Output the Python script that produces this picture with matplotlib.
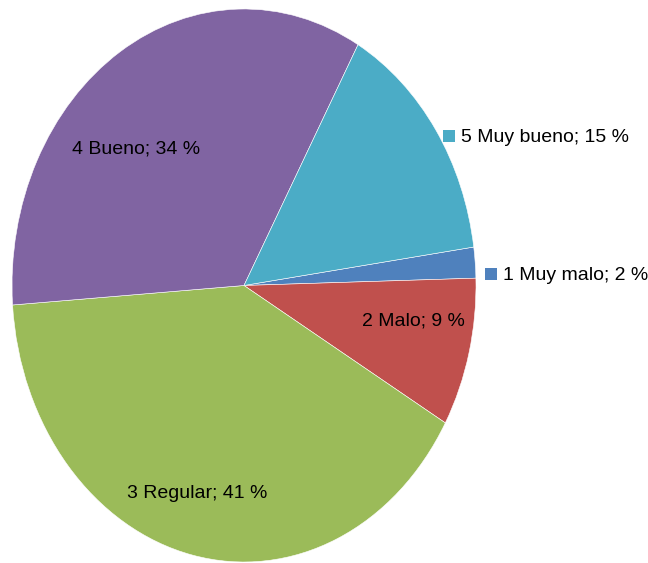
import matplotlib
matplotlib.use("Agg")
import matplotlib.pyplot as plt
import numpy as np

CATEGORIES = ["1 Muy malo", "2 Malo", "3 Regular", "4 Bueno", "5 Muy bueno"]
SHARES = [1.8, 8.7, 40.6, 34.3, 14.6]
LABEL_PCT = [2, 9, 41, 34, 15]               # as printed on the chart
COLORS = ["#4F81BD", "#C0504D", "#9BBB59", "#8064A2", "#4BACC6"]

FONT = ["Liberation Sans", "DejaVu Sans"]
W, H = 648, 563
CX, CY, RX, RY = 244, 285.5, 232, 276.5      # pie centre / radii in pixels (elliptical)

fig = plt.figure(figsize=(W / 100, H / 100), dpi=100)
ax = fig.add_axes([(CX - RX) / W, (H - CY - RY) / H, 2 * RX / W, 2 * RY / H])
wedges, _ = ax.pie(SHARES, colors=COLORS, startangle=8.0, counterclock=False,
                   radius=1, wedgeprops=dict(edgecolor="white", linewidth=0.4))
ax.set_aspect("auto")
ax.set_xlim(-1, 1); ax.set_ylim(-1, 1)
ax.axis("off")


def px(x, y):
    """pixel position in the image -> data coords of the pie axes"""
    return (x - CX) / RX, (CY - y) / RY


labels = [f"{c}; {p} %" for c, p in zip(CATEGORIES, LABEL_PCT)]
# inside labels (centre positions, pixels)
inside = {1: (413, 321), 2: (197, 493), 3: (136, 149)}
for i, (x, y) in inside.items():
    ax.text(*px(x, y), labels[i], ha="center", va="center", fontsize=14,
            family=FONT, color="black")

# outside labels with a small colour key
outside = {4: (449, 136), 0: (491, 274)}
for i, (x, y) in outside.items():
    s = 12
    ax.add_patch(plt.Rectangle(px(x - s / 2, y + s / 2), s / RX, s / RY,
                               facecolor=COLORS[i], edgecolor="none", clip_on=False))
    ax.text(*px(x + 12, y + 1.5), labels[i], ha="left", va="center", fontsize=14,
            family=FONT, color="black", clip_on=False)

fig.savefig("out.png", dpi=100)
